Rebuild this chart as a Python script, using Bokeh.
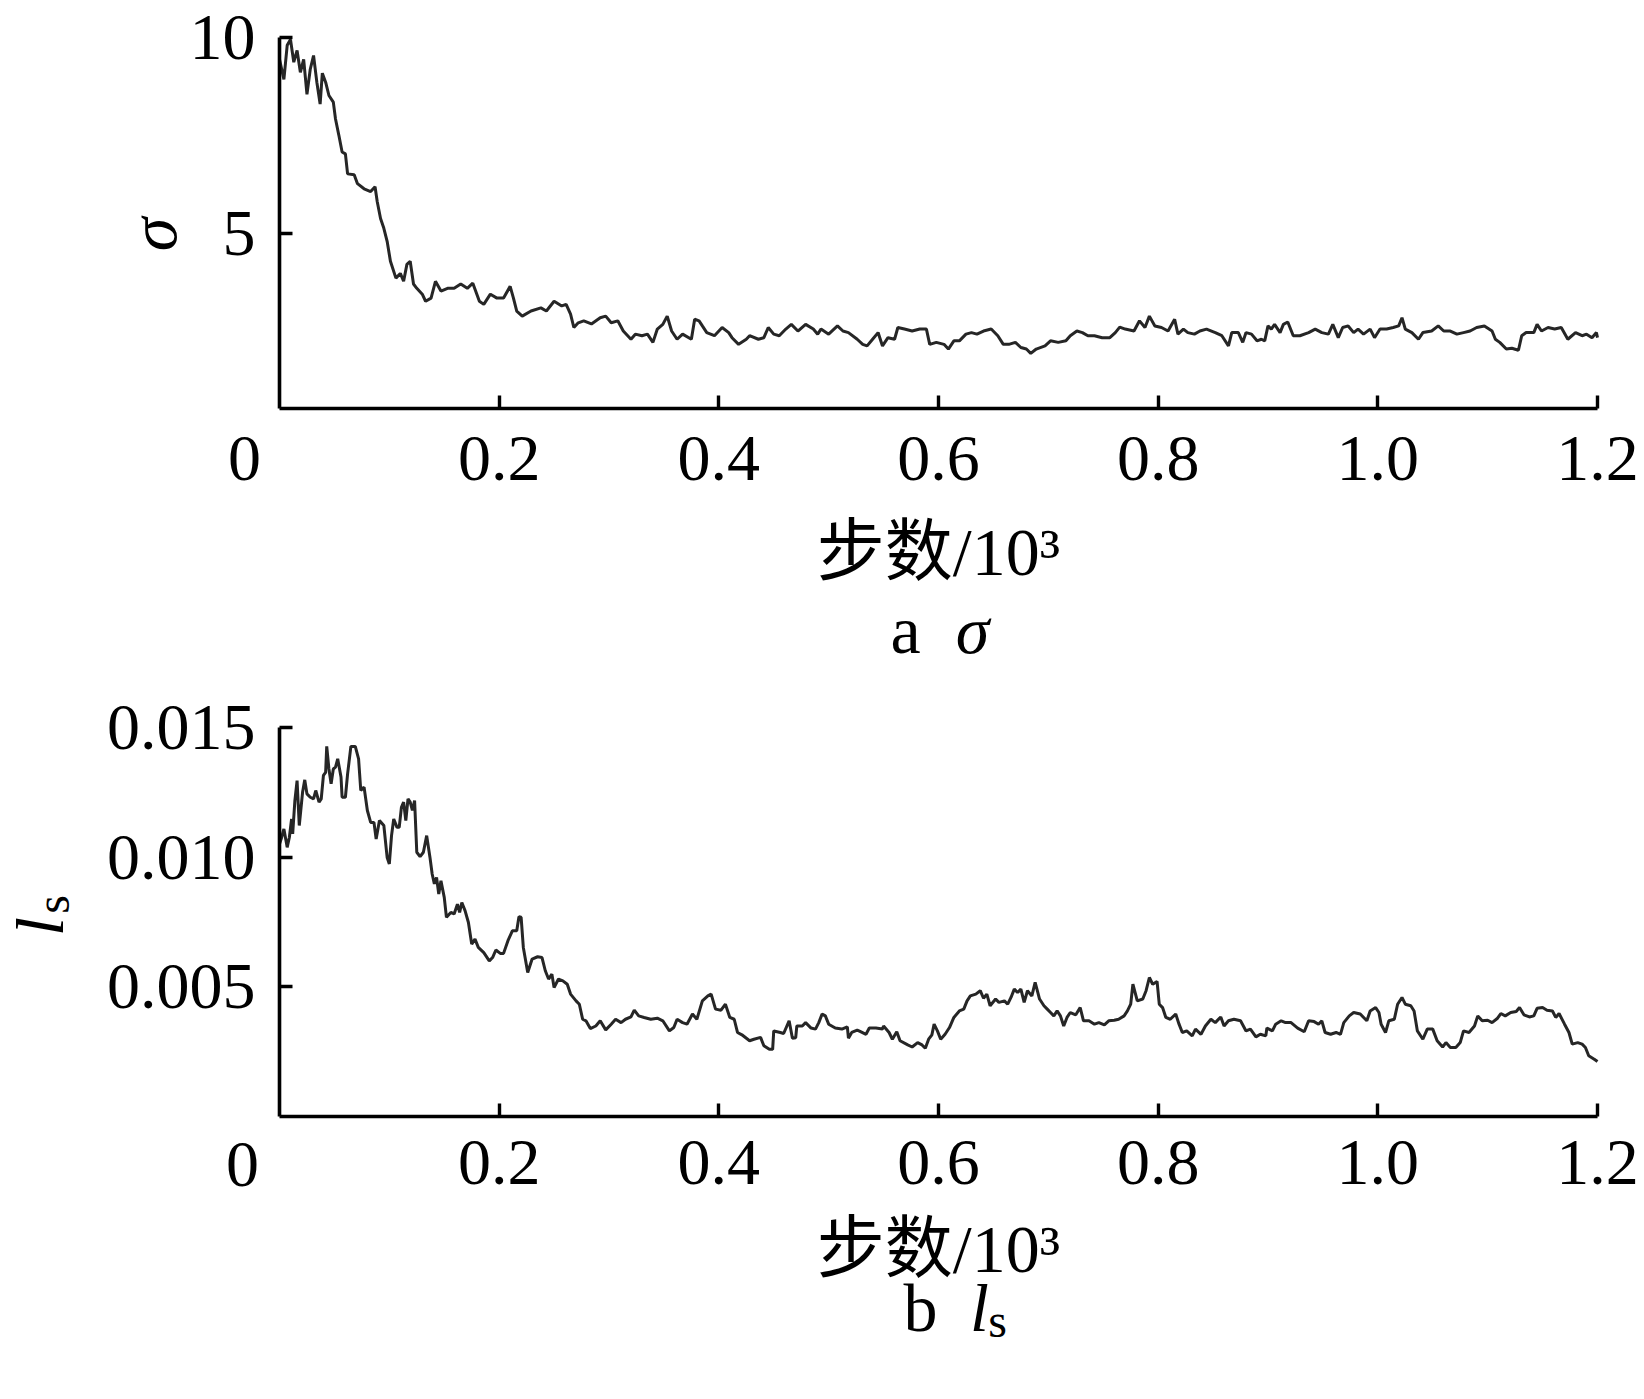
import math
from bokeh.plotting import figure
from bokeh.models import FixedTicker, Label, Range1d
from bokeh.layouts import column
from bokeh.embed import file_html
from bokeh.resources import INLINE

# ---------------- data (steps) ----------------
sigma_steps = [
    0, 4, 7, 10, 13, 16, 19, 22, 25, 28, 31, 34, 37, 39, 42, 45, 49, 51, 54, 57,
    60, 62, 68, 71, 77, 83, 87, 89, 92, 95, 98, 101, 106, 110, 113, 116, 119, 122, 125, 130,
    133, 138, 142, 147, 153, 159, 165, 171, 176, 182, 186, 192, 198, 204, 210, 213, 216, 221, 229,
    238, 243, 250, 257, 261, 265, 268, 272, 277, 284, 292, 297, 302, 308, 313, 320, 324, 330, 335, 340,
    344, 349, 353, 357, 362, 367, 375, 378, 382, 385, 389, 396, 403, 409, 412, 418, 425, 428, 436, 441,
    445, 450, 455, 461, 466, 472, 479, 486, 490, 493, 500, 508, 513, 518, 526, 531, 535, 540, 545, 549,
    554, 560, 563, 569, 576, 583, 589, 592, 598, 605, 609, 614, 619, 625, 630, 635, 641, 648, 654, 659,
    664, 670, 675, 680, 684, 689, 697, 702, 709, 716, 720, 726, 731, 736, 742, 749, 756, 761, 765, 770,
    778, 783, 788, 792, 797, 803, 809, 815, 818, 823, 827, 833, 838, 844, 852, 858, 864, 867, 873, 877,
    880, 885, 890, 894, 897, 900, 903, 906, 911, 914, 918, 923, 929, 937, 943, 949, 955, 959, 964, 968,
    973, 978, 982, 987, 993, 997, 1002, 1008, 1014, 1019, 1022, 1025, 1031, 1037, 1041, 1049, 1055, 1060, 1066, 1072,
    1078, 1084, 1090, 1097, 1104, 1107, 1111, 1117, 1122, 1128, 1131, 1135, 1142, 1145, 1149, 1155, 1161, 1167, 1173, 1180,
    1186, 1190, 1195, 1199, 1200,
]
sigma_values = [
    9.44, 8.93, 9.80, 9.95, 9.37, 9.67, 9.11, 9.44, 8.55, 9.19, 9.54, 8.86, 8.30, 9.09, 8.86, 8.52, 8.35, 7.92, 7.51, 7.08,
    7.03, 6.52, 6.50, 6.27, 6.14, 6.07, 6.19, 5.81, 5.38, 5.13, 4.80, 4.29, 3.86, 3.98, 3.78, 4.21, 4.29, 3.71, 3.60, 3.45,
    3.27, 3.35, 3.78, 3.53, 3.60, 3.60, 3.71, 3.60, 3.73, 3.27, 3.19, 3.45, 3.35, 3.35, 3.65, 3.35, 3.02, 2.89, 3.02,
    3.10, 3.02, 3.27, 3.15, 3.19, 2.94, 2.60, 2.72, 2.77, 2.69, 2.85, 2.89, 2.72, 2.77, 2.51, 2.30, 2.43, 2.39, 2.43, 2.22,
    2.56, 2.68, 2.89, 2.51, 2.30, 2.43, 2.30, 2.81, 2.77, 2.64, 2.47, 2.39, 2.60, 2.47, 2.34, 2.17, 2.30, 2.39, 2.30, 2.34,
    2.60, 2.43, 2.39, 2.56, 2.68, 2.51, 2.68, 2.56, 2.43, 2.56, 2.43, 2.64, 2.51, 2.47, 2.30, 2.17, 2.13, 2.30, 2.47, 2.13,
    2.34, 2.30, 2.60, 2.56, 2.51, 2.56, 2.56, 2.17, 2.22, 2.17, 2.05, 2.26, 2.26, 2.43, 2.47, 2.43, 2.51, 2.56, 2.39, 2.17,
    2.17, 2.22, 2.09, 2.05, 1.94, 2.05, 2.13, 2.26, 2.22, 2.26, 2.39, 2.51, 2.47, 2.39, 2.39, 2.34, 2.34, 2.47, 2.61, 2.56,
    2.51, 2.77, 2.60, 2.89, 2.64, 2.60, 2.51, 2.81, 2.43, 2.56, 2.47, 2.43, 2.51, 2.56, 2.47, 2.39, 2.13, 2.47, 2.47, 2.22,
    2.47, 2.43, 2.26, 2.30, 2.26, 2.64, 2.56, 2.68, 2.47, 2.68, 2.74, 2.39, 2.39, 2.47, 2.56, 2.47, 2.43, 2.68, 2.34, 2.60,
    2.64, 2.47, 2.56, 2.43, 2.56, 2.34, 2.56, 2.56, 2.60, 2.64, 2.85, 2.56, 2.47, 2.30, 2.47, 2.51, 2.64, 2.51, 2.51, 2.43,
    2.47, 2.51, 2.60, 2.64, 2.51, 2.30, 2.22, 2.05, 2.07, 2.02, 2.39, 2.47, 2.47, 2.68, 2.51, 2.60, 2.56, 2.60, 2.30, 2.47,
    2.39, 2.43, 2.34, 2.47, 2.34,
]

ls_steps = [
    0, 2, 4, 7, 9, 11, 12, 14, 16, 18, 21, 23, 25, 28, 31, 33, 36, 38, 40, 42,
    43, 45, 47, 49, 51, 53, 56, 57, 60, 62, 65, 69, 72, 74, 77, 80, 83, 86, 88, 91,
    95, 98, 100, 102, 104, 107, 109, 111, 113, 115, 117, 119, 121, 123, 125, 128, 131, 134, 137, 139,
    141, 143, 145, 147, 150, 152, 156, 159, 162, 164, 166, 169, 172, 175, 178, 181, 186, 191, 194, 197,
    201, 204, 208, 212, 216, 218, 220, 222, 226, 230, 235, 239, 242, 245, 248, 250, 254, 258, 262, 265,
    270, 273, 276, 279, 283, 288, 292, 297, 302, 306, 311, 315, 320, 323, 327, 332, 338, 344, 349, 355,
    359, 362, 367, 371, 376, 380, 385, 390, 393, 397, 402, 406, 410, 414, 417, 421, 428, 432, 438, 441,
    446, 449, 450, 456, 459, 464, 467, 470, 471, 476, 479, 484, 488, 491, 494, 497, 500, 506, 512, 517,
    518, 521, 526, 529, 534, 537, 543, 549, 550, 555, 558, 562, 565, 572, 576, 581, 585, 588, 591, 594,
    596, 599, 602, 606, 610, 614, 619, 623, 626, 629, 634, 638, 641, 644, 647, 652, 655, 660, 663, 666,
    669, 672, 675, 678, 681, 685, 688, 692, 696, 699, 702, 705, 708, 711, 714, 717, 720, 725, 729, 732,
    737, 742, 746, 751, 755, 760, 764, 769, 772, 775, 777, 781, 786, 789, 792, 795, 799, 801, 804, 807,
    811, 816, 819, 822, 826, 831, 834, 839, 843, 848, 852, 857, 860, 864, 869, 875, 880, 884, 889, 893,
    898, 899, 904, 907, 912, 916, 921, 927, 933, 937, 942, 946, 949, 952, 957, 962, 966, 969, 974, 978,
    984, 990, 993, 998, 1001, 1003, 1007, 1010, 1015, 1018, 1022, 1025, 1030, 1033, 1036, 1041, 1045, 1050, 1054, 1059,
    1062, 1066, 1071, 1075, 1078, 1083, 1088, 1091, 1095, 1100, 1104, 1109, 1112, 1116, 1121, 1126, 1129, 1133, 1138, 1142,
    1145, 1150, 1154, 1159, 1162, 1165, 1170, 1174, 1177, 1182, 1186, 1189, 1192, 1197, 1200,
]
ls_values_e3 = [
    10.51, 10.77, 11.09, 10.38, 10.77, 11.47, 10.90, 12.18, 12.95, 11.22, 12.50, 12.98, 12.44, 12.31, 12.25, 12.57, 12.12, 12.25, 13.15, 13.27,
    14.27, 13.40, 12.83, 13.40, 13.47, 13.79, 13.09, 12.31, 12.31, 13.21, 14.27, 14.27, 13.79, 12.57, 12.70, 11.80, 11.34, 11.34, 10.70, 11.41,
    11.22, 9.99, 9.74, 10.83, 11.47, 11.15, 11.15, 11.92, 12.12, 11.41, 12.25, 12.12, 11.80, 12.18, 10.19, 10.02, 10.19, 10.83, 9.99, 9.35,
    8.97, 9.22, 8.58, 9.09, 8.45, 7.68, 7.87, 7.81, 8.19, 7.87, 8.25, 7.93, 7.48, 6.65, 6.84, 6.52, 6.32, 6.00, 6.13, 6.42,
    6.29, 6.29, 6.78, 7.16, 7.16, 7.70, 7.68, 6.52, 5.55, 6.07, 6.16, 6.13, 5.62, 5.30, 5.49, 4.97, 5.30, 5.23, 5.10, 4.72,
    4.46, 4.33, 3.75, 3.69, 3.39, 3.49, 3.69, 3.34, 3.56, 3.75, 3.62, 3.75, 3.84, 4.10, 3.88, 3.82, 3.75, 3.79, 3.69, 3.30,
    3.43, 3.75, 3.62, 3.56, 3.95, 3.75, 4.46, 4.65, 4.72, 4.14, 4.10, 4.33, 3.82, 3.75, 3.24, 3.15, 2.92, 2.98, 3.05, 2.73,
    2.59, 2.59, 3.30, 3.24, 3.20, 3.69, 3.02, 3.04, 3.49, 3.49, 3.62, 3.41, 3.37, 3.62, 3.95, 3.88, 3.56, 3.41, 3.37, 3.46,
    3.02, 3.24, 3.33, 3.27, 3.17, 3.41, 3.41, 3.37, 3.49, 3.24, 2.98, 3.27, 2.92, 2.76, 2.68, 2.85, 2.76, 2.63, 2.98, 3.15,
    3.56, 3.30, 2.98, 3.17, 3.43, 3.82, 4.07, 4.14, 4.46, 4.65, 4.72, 4.85, 4.56, 4.72, 4.27, 4.53, 4.40, 4.46, 4.33, 4.59,
    4.91, 4.78, 4.91, 4.40, 4.85, 4.65, 5.17, 4.53, 4.27, 4.14, 4.01, 3.88, 4.07, 3.88, 3.49, 3.82, 4.01, 3.92, 4.20, 3.69,
    3.69, 3.56, 3.62, 3.53, 3.69, 3.71, 3.75, 3.88, 4.07, 4.33, 5.10, 4.46, 4.53, 4.85, 5.36, 5.10, 5.21, 4.33, 4.20, 3.82,
    3.75, 3.95, 3.56, 3.24, 3.30, 3.11, 3.37, 3.17, 3.49, 3.75, 3.62, 3.84, 3.49, 3.69, 3.75, 3.69, 3.30, 3.37, 3.07, 3.17,
    3.11, 3.41, 3.30, 3.56, 3.69, 3.62, 3.62, 3.41, 3.27, 3.69, 3.66, 3.56, 3.69, 3.24, 3.17, 3.24, 3.17, 3.62, 3.88, 4.01,
    3.95, 3.69, 4.07, 4.20, 4.01, 3.56, 3.24, 3.69, 3.75, 4.33, 4.59, 4.33, 4.27, 4.07, 3.30, 2.98, 3.37, 3.37, 2.92, 2.68,
    2.85, 2.66, 2.66, 2.85, 3.30, 3.24, 3.49, 3.88, 3.69, 3.71, 3.62, 3.79, 3.97, 3.88, 4.01, 4.05, 4.20, 3.92, 3.84, 3.88,
    4.17, 4.20, 4.10, 4.07, 3.82, 3.97, 3.56, 3.24, 2.79, 2.85, 2.79, 2.66, 2.34, 2.21, 2.12,
]

x_ticks = [0.2, 0.4, 0.6, 0.8, 1.0, 1.2]
x_tick_labels = ["0.2", "0.4", "0.6", "0.8", "1.0", "1.2"]
sigma_ticks = [5, 10]
sigma_tick_labels = ["5", "10"]
ls_ticks = [0.005, 0.010, 0.015]
ls_tick_labels = ["0.005", "0.010", "0.015"]
x_label_text = "步数/10³"

sigma_x = [s / 1000 for s in sigma_steps]
ls_x = [s / 1000 for s in ls_steps]
ls_y = [v / 1000 for v in ls_values_e3]

# ---------------- layout (pixels) ----------------
W = 1640
X0_PX, X1_PX = 279, 1597          # screen x of data x = 0 and x = 1.2
SX = (X1_PX - X0_PX) / 1.2
XR = (-X0_PX / SX, 1.2 + (W - X1_PX) / SX)

SERIF = "Liberation Serif"
MIXED = "Liberation Serif, Noto Sans CJK SC"
TICK_SIZE = "66px"
LINE_COLOR = "#262626"


def y_range_for(v_top, px_top, v_bot, px_bot, H):
    s = (px_bot - px_top) / (v_top - v_bot)
    return (v_bot - (H - px_bot) / s, v_top + px_top / s)


def make_fig(H, yr, y_lo, y_hi, yticks, ylabels, x_standoff):
    p = figure(width=W, height=H, x_range=Range1d(*XR), y_range=Range1d(*yr),
               output_backend="svg", toolbar_location=None,
               min_border_left=0, min_border_right=0,
               min_border_top=0, min_border_bottom=0)
    p.outline_line_color = None
    p.xgrid.visible = False
    p.ygrid.visible = False
    p.background_fill_color = "white"
    p.border_fill_color = "white"
    p.xaxis.fixed_location = y_lo
    p.xaxis.bounds = (0, 1.2)
    p.yaxis.fixed_location = 0
    p.yaxis.bounds = (y_lo, y_hi)
    p.xaxis.ticker = FixedTicker(ticks=x_ticks)
    p.xaxis.major_label_overrides = {t: l for t, l in zip(x_ticks, x_tick_labels)}
    p.yaxis.ticker = FixedTicker(ticks=yticks)
    p.yaxis.major_label_overrides = {t: l for t, l in zip(yticks, ylabels)}
    for ax in (p.xaxis[0], p.yaxis[0]):
        ax.axis_line_width = 3.6
        ax.axis_line_color = "black"
        ax.major_tick_in = 13
        ax.major_tick_out = 0
        ax.major_tick_line_width = 3.4
        ax.major_tick_line_color = "black"
        ax.minor_tick_line_color = None
        ax.major_label_text_font = SERIF
        ax.major_label_text_font_size = TICK_SIZE
        ax.major_label_text_color = "black"
    p.xaxis.major_label_standoff = x_standoff
    p.yaxis.major_label_standoff = 24
    return p


def lab(p, text, x, y, xo, yo, size="66px", style="normal", align="center",
        baseline="alphabetic", angle=0.0, font=SERIF):
    p.add_layout(Label(x=x, y=y, x_offset=xo, y_offset=yo, text=text,
                       text_font=font, text_font_size=size,
                       text_font_style=style, text_align=align,
                       text_baseline=baseline, angle=angle,
                       text_color="black"))


# ---------------- panel a ----------------
H1 = 690
y0a, y1a = 0.533, 10.0
p1 = make_fig(H1, y_range_for(y1a, 37, y0a, 408, H1), y0a, y1a,
              sigma_ticks, sigma_tick_labels, 28)
p1.line(sigma_x, sigma_values, line_color=LINE_COLOR, line_width=3.0)
lab(p1, "0", 0, y0a, -35, -50, size=TICK_SIZE)
lab(p1, x_label_text, 0.6, y0a, 0, -143, size="68px", font=MIXED)
lab(p1, "a", 0.6, y0a, -33, -221, size="68px")
lab(p1, "σ", 0.6, y0a, 34, -221, size="68px", style="italic")
lab(p1, "σ", 0, 5, -127, -1, size="68px", style="italic", angle=math.pi / 2)

# ---------------- panel b ----------------
H2 = 700
TOP2 = 690
y0b, y1b = 0.0, 0.015
p2 = make_fig(H2, y_range_for(y1b, 727 - TOP2, y0b, 1116 - TOP2, H2), y0b, y1b,
              ls_ticks, ls_tick_labels, 24)
p2.line(ls_x, ls_y, line_color=LINE_COLOR, line_width=3.0)
lab(p2, "0", 0, 0, -37, -48, size=TICK_SIZE)
lab(p2, x_label_text, 0.6, 0, 0, -132, size="68px", font=MIXED)
lab(p2, "b", 0.6, 0, -18, -191, size="68px")
lab(p2, "l", 0.6, 0, 41, -191, size="68px", style="italic")
lab(p2, "s", 0.6, 0, 59, -204, size="48px")
lab(p2, "l", 0, 0, -240, 190, size="68px", style="italic", angle=math.pi / 2)
lab(p2, "s", 0, 0, -227, 212, size="48px", angle=math.pi / 2)

layout = column(p1, p2)
open("out.html", "w").write(file_html(layout, INLINE))
